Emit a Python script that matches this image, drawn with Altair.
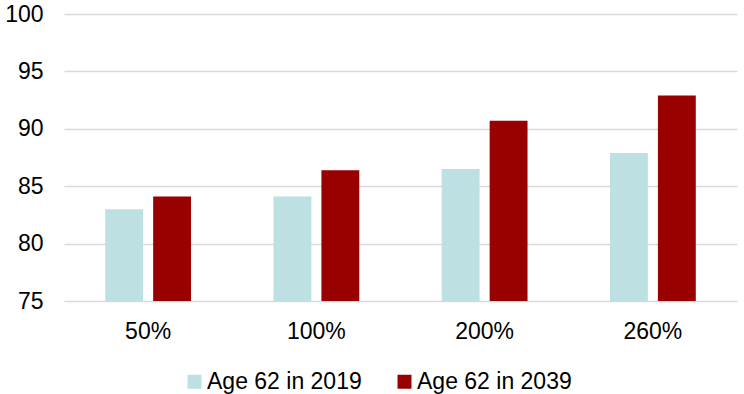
import altair as alt
import pandas as pd

categories = ["50%", "100%", "200%", "260%"]
series = ["Age 62 in 2019", "Age 62 in 2039"]
values_2019 = [83.0, 84.1, 86.5, 87.9]
values_2039 = [84.1, 86.4, 90.7, 92.9]
y_ticks = [75, 80, 85, 90, 95, 100]
colors = ["#bde0e3", "#990000"]

rows = []
for c, v1, v2 in zip(categories, values_2019, values_2039):
    rows.append({"cat": c, "series": series[0], "value": v1})
    rows.append({"cat": c, "series": series[1], "value": v2})
df = pd.DataFrame(rows)

FONT = "Liberation Sans"

chart = alt.Chart(df).mark_bar().encode(
    x=alt.X("cat:N", sort=categories, title=None,
            scale=alt.Scale(paddingInner=0.49, paddingOuter=0.245),
            axis=alt.Axis(labelAngle=0, ticks=False, tickSize=0, domain=False,
                          labelPadding=19, labelFontSize=23, labelFont=FONT,
                          labelColor="#000000", grid=False)),
    xOffset=alt.XOffset("series:N", sort=series,
                        scale=alt.Scale(paddingInner=0.21, paddingOuter=0)),
    y=alt.Y("value:Q", title=None,
            scale=alt.Scale(domain=[75, 100], nice=False, zero=False),
            axis=alt.Axis(values=y_ticks, ticks=False, tickSize=0, domain=False,
                          labelPadding=21, labelFontSize=23, labelFont=FONT,
                          labelColor="#000000", gridColor="#d9d9d9",
                          gridWidth=1.6)),
    y2=alt.datum(75),
    color=alt.Color("series:N", sort=series, title=None,
                    scale=alt.Scale(domain=series, range=colors),
                    legend=alt.Legend(orient="none", direction="horizontal",
                                      legendX=119, legendY=356,
                                      symbolType="square", symbolSize=196,
                                      symbolStrokeWidth=0, labelOffset=1,
                                      columnPadding=31, labelFontSize=23,
                                      labelFont=FONT, labelColor="#000000",
                                      padding=0)),
).properties(
    width=673, height=287,
    autosize=alt.AutoSizeParams(type="none"),
    padding={"left": 64, "top": 14, "right": 7, "bottom": 93},
).configure_view(stroke=None)

chart.save("out.html", embed_options={"renderer": "svg", "actions": False})
